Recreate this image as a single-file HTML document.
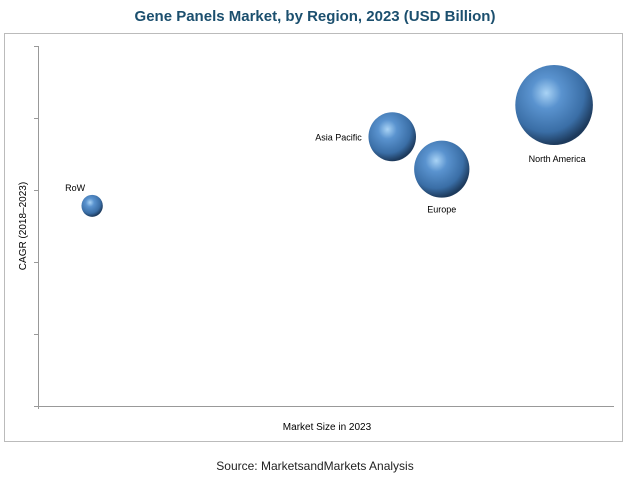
<!DOCTYPE html>
<html><head><meta charset="utf-8"><style>
body{margin:0;background:#fff;width:631px;height:479px;overflow:hidden;font-family:"Liberation Sans",sans-serif}
</style></head><body>
<svg width="631" height="479">
<defs>
<radialGradient id="g" cx="0.4" cy="0.35" r="0.65">
<stop offset="0" stop-color="#a9d3f5"/><stop offset="0.3" stop-color="#5a93cf"/><stop offset="0.75" stop-color="#3a6ea6"/><stop offset="1" stop-color="#1d3a5c"/>
</radialGradient>
</defs>
<text x="315" y="21" text-anchor="middle" font-size="15" font-weight="bold" fill="#1b4f6e">Gene Panels Market, by Region, 2023 (USD Billion)</text>
<rect x="4.5" y="33.5" width="618" height="408" fill="#fff" stroke="#bbb"/>
<g id="axes"></g>
<g id="bubbles"></g>
<text x="327" y="430" text-anchor="middle" font-size="10" fill="#000">Market Size in 2023</text>
<text transform="translate(26,226) rotate(-90)" text-anchor="middle" font-size="10" fill="#000">CAGR (2018–2023)</text>
<text x="315" y="470" text-anchor="middle" font-size="12" fill="#222">Source: MarketsandMarkets Analysis</text>
</svg>
<script>
const regions=["RoW","Asia Pacific","Europe","North America"];
const marketSize=[9.4,61.5,70.1,89.6];
const cagr=[2.78,3.74,3.29,4.18];
const bubbleSize=[11,24.5,28.5,40];
const yTicks=[0,1,2,3,4,5];
const NS="http://www.w3.org/2000/svg";
const xS=v=>38+v*5.76, yS=v=>406-v*72;
const ax=document.getElementById('axes'), bg=document.getElementById('bubbles');
function mk(t,a,p){const e=document.createElementNS(NS,t);for(const k in a)e.setAttribute(k,a[k]);p.appendChild(e);return e;}
const ya=mk('line',{x1:38.5,y1:yS(5),x2:38.5,y2:yS(0)+3,stroke:'#999'},ax);


const xa=mk('line',{x1:35,y1:406.5,x2:614,y2:406.5,stroke:'#999'},ax);


yTicks.forEach(t=>{const l=mk('line',{x1:34,x2:38,y1:yS(t)+.5,y2:yS(t)+.5,stroke:'#999'},ax);

});
const lab=[[-16,-16,'start'],[-30,4,'end'],[0,44,'middle'],[3,57,'middle']];
regions.forEach((r,i)=>{const cx=xS(marketSize[i]),cy=yS(cagr[i]),rr=bubbleSize[i];
const c=mk('ellipse',{cx:cx,cy:cy,rx:rr*0.97,ry:rr,fill:'url(#g)'},bg);


const L=lab[i];let tx=cx+L[0],ty=cy+L[1];
if(i==0){tx=cx-27;ty=cy-15;}
if(i==1){tx=cx-rr-6;ty=cy+4;}
if(i==2){ty=cy+rr+15;}
if(i==3){ty=cy+rr+17;}
const t=mk('text',{x:tx,y:ty,'text-anchor':L[2],'font-size':9,fill:'#000'},bg);t.textContent=r;

});
</script>
</body></html>
